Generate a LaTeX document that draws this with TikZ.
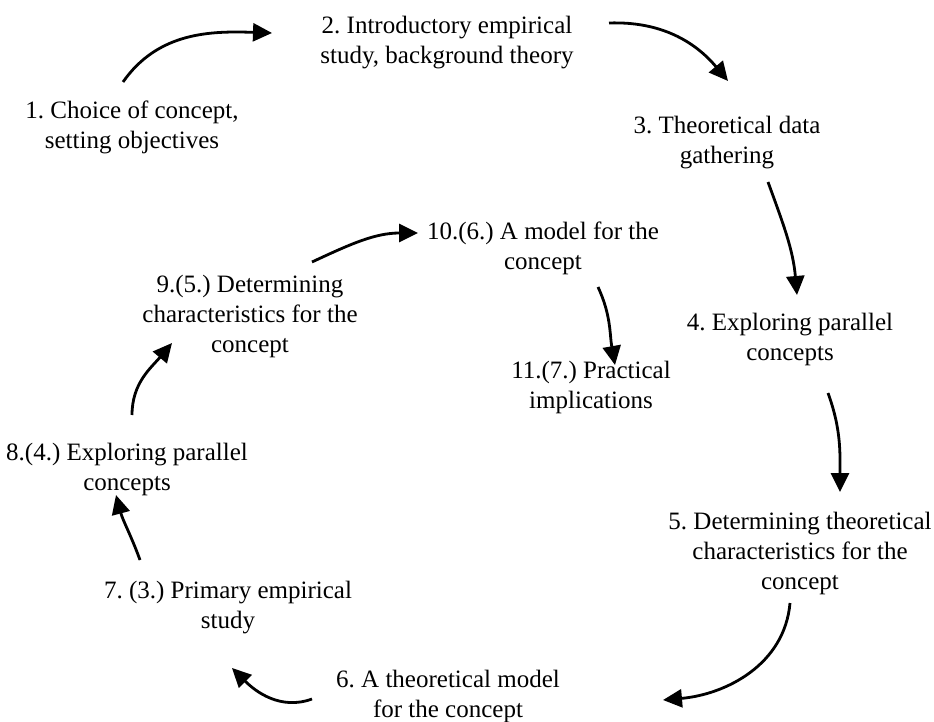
\documentclass[tikz,border=0pt]{standalone}
\usepackage{fontspec}
\setmainfont{Liberation Serif}
\usetikzlibrary{arrows.meta}
\frenchspacing
\begin{document}
\begin{tikzpicture}[x=1pt,y=-1pt,
  stage/.style={align=center,inner sep=0pt,font=\fontsize{25}{30}\selectfont},
  flow/.style={line width=2.8pt,-{Triangle[length=19pt,width=18pt]}}]
\useasboundingbox (0,0) rectangle (934,722);

% stages of the research process
\node[stage] (s1)  at (132,127) {1. Choice of concept,\\setting objectives};
\node[stage] (s2)  at (447,43)  {2. Introductory empirical\\study, background theory};
\node[stage] (s3)  at (727,143) {3. Theoretical data\\gathering};
\node[stage] (s4)  at (790,339) {4. Exploring parallel\\concepts};
\node[stage] (s5)  at (800,553) {5. Determining theoretical\\characteristics for the\\concept};
\node[stage] (s6)  at (448,696) {6. A theoretical model\\for the concept};
\node[stage] (s7)  at (228,608) {7. (3.) Primary empirical\\study};
\node[stage] (s8)  at (127,469) {8.(4.) Exploring parallel\\concepts};
\node[stage] (s9)  at (250,316) {9.(5.) Determining\\characteristics for the\\concept};
\node[stage] (s10) at (543,248) {10.(6.) A model for the\\concept};
\node[stage] (s11) at (591,387) {11.(7.) Practical\\implications};

% arrow end points
\coordinate (a1s) at (123,82);  \coordinate (a1e) at (272,33);
\coordinate (a2s) at (609,23);  \coordinate (a2e) at (728,81);
\coordinate (a3s) at (768,182); \coordinate (a3e) at (797,295);
\coordinate (a4s) at (828,393); \coordinate (a4e) at (840,492);
\coordinate (a5s) at (790,603); \coordinate (a5e) at (663,700);
\coordinate (a6s) at (312,699); \coordinate (a6e) at (232,668);
\coordinate (a7s) at (140,560); \coordinate (a7e) at (116,495);
\coordinate (a8s) at (132,415); \coordinate (a8e) at (172,343);
\coordinate (a9s) at (312,262); \coordinate (a9e) at (418,233);
\coordinate (a10s) at (598,287); \coordinate (a10e) at (615,365);

% angles are given in page orientation (90 = up)
\draw[flow] (a1s) to[out=55,in=178] (a1e);
\draw[flow] (a2s) to[out=2,in=130] (a2e);
\draw[flow] (a3s) to[out=-70,in=95] (a3e);
\draw[flow] (a4s) to[out=-70,in=90] (a4e);
\draw[flow] (a5s) to[out=-95,in=5] (a5e);
\draw[flow] (a6s) to[out=200,in=-45] (a6e);
\draw[flow] (a7s) to[out=110,in=-75] (a7e);
\draw[flow] (a8s) to[out=90,in=-130] (a8e);
\draw[flow] (a9s) to[out=25,in=180] (a9e);
\draw[flow] (a10s) to[out=-65,in=100] (a10e);
\end{tikzpicture}
\end{document}
